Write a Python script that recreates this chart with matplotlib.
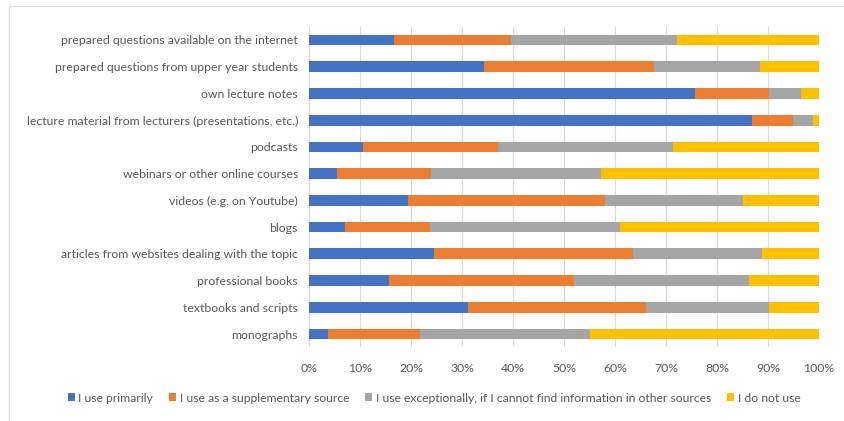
import matplotlib
matplotlib.use("Agg")
import matplotlib.pyplot as plt
import numpy as np

categories = [
    "prepared questions available on the internet",
    "prepared questions from upper year students",
    "own lecture notes",
    "lecture material from lecturers (presentations, etc.)",
    "podcasts",
    "webinars or other online courses",
    "videos (e.g. on Youtube)",
    "blogs",
    "articles from websites dealing with the topic",
    "professional books",
    "textbooks and scripts",
    "monographs",
]
primarily = [16.7, 34.4, 75.7, 86.8, 10.6, 5.4, 19.4, 7.1, 24.5, 15.7, 31.1, 3.7]
supplementary = [23.0, 33.2, 14.5, 8.2, 26.5, 18.6, 38.7, 16.6, 39.0, 36.3, 34.9, 18.1]
exceptionally = [32.5, 20.8, 6.2, 3.8, 34.3, 33.2, 27.0, 37.3, 25.3, 34.2, 24.2, 33.3]
not_use = [27.8, 11.6, 3.6, 1.2, 28.6, 42.8, 14.9, 39.0, 11.2, 13.8, 9.8, 44.9]

series_names = ["I use primarily", "I use as a supplementary source",
                "I use exceptionally, if I cannot find information in other sources",
                "I do not use"]
colors = ["#4472C4", "#ED7D31", "#A5A5A5", "#FFC000"]

plt.rcParams['font.family'] = ['Lato', 'DejaVu Sans']
text_col = '#595959'

fig = plt.figure(figsize=(8.44, 4.21), dpi=100)
ax = fig.add_axes([309/844, 1-347.4/421, 510/844, 320.8/421])

y = np.arange(len(categories))
left = np.zeros(len(categories))
data = [primarily, supplementary, exceptionally, not_use]
for vals, name, c in zip(data, series_names, colors):
    vals = np.array(vals)
    ax.barh(y, vals, left=left, height=0.4, color=c, label=name, zorder=3)
    left += vals

ax.set_xlim(0, 100)
ax.set_ylim(len(categories)-0.5, -0.5)
ax.set_yticks(y)
ax.set_yticklabels(categories)
ax.set_xticks(np.arange(0, 101, 10))
ax.set_xticklabels([f"{v}%" for v in range(0, 101, 10)])
ax.tick_params(axis='both', length=0, labelsize=8.8, colors=text_col)
ax.tick_params(axis='y', pad=8)
ax.tick_params(axis='x', pad=11)
ax.grid(axis='x', color='#d9d9d9', linewidth=0.8, zorder=0)
for s in ax.spines.values():
    s.set_visible(False)

leg = fig.legend(loc='center', bbox_to_anchor=(434/844, 1-398/421), ncol=4, frameon=False,
                 fontsize=8.7, handlelength=0.6, handleheight=0.6, handletextpad=0.3,
                 columnspacing=1.3)
for t in leg.get_texts():
    t.set_color(text_col)

fig.patches.append(plt.Rectangle((9/844, -0.01), 1.0, 1 - 6/421 + 0.01, transform=fig.transFigure,
                                 fill=False, edgecolor='#d9d9d9', linewidth=0.8))

fig.savefig("out.png", dpi=100)
